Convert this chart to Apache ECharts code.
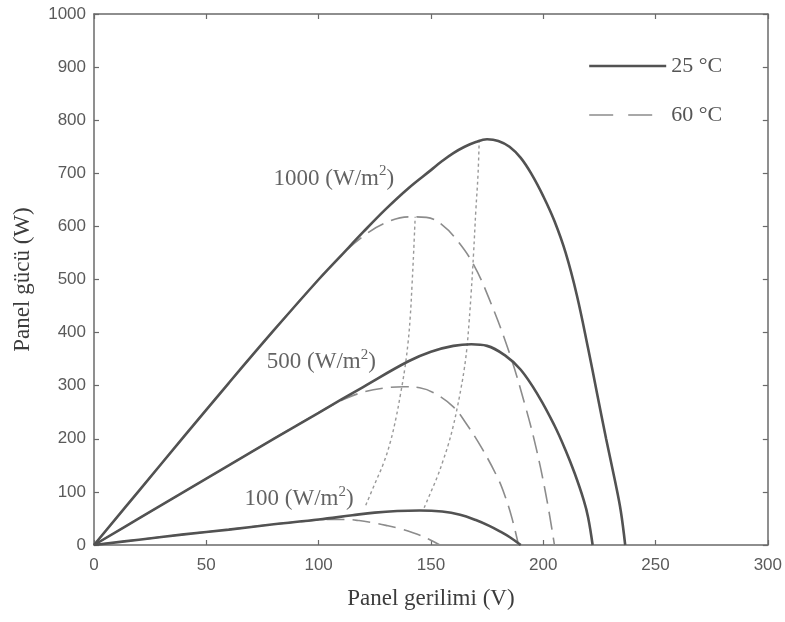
<!DOCTYPE html>
<html>
<head>
<meta charset="utf-8">
<script src="https://cdn.jsdelivr.net/npm/echarts@6/dist/echarts.min.js"></script>
<style>
  html, body { margin: 0; padding: 0; background: #fff; }
  #chart { width: 785px; height: 622px; }
</style>
</head>
<body>
<div id="chart"></div>
<script>
const elChart = document.getElementById('chart');

// Data: [voltage (V), power (W)]
const xTicks = [0, 50, 100, 150, 200, 250, 300];
const yTicks = [0, 100, 200, 300, 400, 500, 600, 700, 800, 900, 1000];

const p1000at25 = [[0, 0], [20, 102], [40, 204], [60, 305], [80, 404], [100, 500], [110, 545], [120, 590],
    [130, 633], [140, 672], [150, 706], [155, 723], [160, 738], [165, 750], [170, 759], [175, 764],
    [180, 761], [185, 750], [190, 729], [195, 697], [200, 657], [205, 610], [210, 550], [215, 470],
    [220, 370], [224, 285], [228, 200], [232, 120], [234.5, 65], [236.5, 0]];
const p1000at60 = [[0, 0], [20, 102], [40, 204], [60, 305], [80, 404], [100, 500], [110, 545], [120, 582],
    [130, 607], [140, 618], [148, 617], [155, 603], [162, 572], [169, 528], [176, 463], [185, 361],
    [192, 262], [197, 180], [201.5, 88], [205, 0]];

const p500at25 = [[0, 0], [20, 50], [40, 100], [60, 150], [80, 200], [100, 249], [120, 298], [140, 346],
    [150, 364], [160, 375], [168, 378], [175, 375], [183, 357], [190, 330], [198, 280], [205, 225],
    [210, 178], [214, 135], [218, 85], [220, 52], [222, 0]];
const p500at60 = [[0, 0], [20, 50], [40, 100], [60, 150], [80, 200], [100, 249], [110, 272], [120, 288],
    [130, 296], [138, 298], [145, 296], [152, 285], [160, 260], [166, 227], [173, 180], [180, 124],
    [183, 92], [186, 52], [189, 0]];

const p100at25 = [[0, 0], [20, 10], [40, 20], [60, 29], [80, 39], [100, 48], [115, 56], [125, 61],
    [135, 64], [145, 65], [155, 63], [163, 57], [170, 47], [176, 36], [181, 25], [185, 15], [190, 0]];
const p100at60 = [[0, 0], [20, 10], [40, 20], [60, 29], [80, 39], [100, 47], [106, 48], [112, 48],
    [118, 46], [124, 42], [130, 37], [136, 31], [142, 23], [148, 13], [154, 0]];

// maximum power point loci
const mppAt25 = [[147, 70], [150, 100], [153, 130], [155.5, 160], [157.8, 190], [160, 225], [161.8, 260],
    [163.4, 295], [164.8, 330], [166, 370], [167, 420], [168, 480], [169, 550], [170, 630],
    [171, 700], [171.5, 763]];
const mppAt60 = [[121, 75], [125, 115], [129, 155], [132, 195], [134.5, 240], [136.5, 285], [138.3, 330],
    [139.8, 380], [140.8, 430], [141.6, 490], [142.3, 550], [143, 618]];

const curveLabels = [
    { value: [106.8, 693], level: '1000' },
    { value: [101.2, 348], level: '500' },
    { value: [91.3, 90], level: '100' }
];

const name25 = '25 °C';
const name60 = '60 °C';

const chart = echarts.init(elChart);

function solid(data) {
    return {
        name: name25,
        type: 'line',
        data: data,
        symbol: 'none',
        smooth: 0.4,
        z: 5,
        itemStyle: { color: '#525252' },
        lineStyle: { color: '#525252', width: 2.6 }
    };
}

function dashed(data) {
    return {
        name: name60,
        type: 'line',
        data: data,
        symbol: 'none',
        smooth: 0.4,
        z: 4,
        itemStyle: { color: '#8c8c8c' },
        lineStyle: { color: '#8c8c8c', width: 1.6, type: [18, 8] }
    };
}

function dotted(name, data) {
    return {
        name: name,
        type: 'line',
        data: data,
        symbol: 'none',
        smooth: 0.4,
        z: 3,
        lineStyle: { color: '#999999', width: 1.4, type: [3, 3] }
    };
}

const serif = '"Liberation Serif", "DejaVu Serif", serif';
const sans = '"Liberation Sans", Arial, sans-serif';

const axisLine = { show: true, onZero: false, lineStyle: { color: '#6a6a6a', width: 1.5 } };
const axisTick = { show: true, inside: true, length: 5, lineStyle: { color: '#6a6a6a', width: 1.2 } };

const option = {
    animation: false,
    backgroundColor: '#ffffff',
    grid: { left: 94, right: 17, top: 14, bottom: 77 },

    legend: {
        orient: 'vertical',
        left: 583,
        top: 50,
        itemWidth: 77,
        itemHeight: 14,
        itemGap: 27,
        itemStyle: { opacity: 0 },
        data: [
            { name: name25, lineStyle: { width: 2.4 } },
            { name: name60, lineStyle: { type: [24, 15], width: 1.6 } }
        ],
        textStyle: { fontFamily: serif, fontSize: 22, color: '#555' },
        selectedMode: false
    },

    xAxis: [
        {
            type: 'value', min: 0, max: 300, interval: 50,
            name: 'Panel gerilimi (V)', nameLocation: 'middle', nameGap: 42,
            nameTextStyle: { fontFamily: serif, fontSize: 23, color: '#3c3c3c' },
            axisLine: axisLine, axisTick: axisTick, splitLine: { show: false },
            axisLabel: { margin: 12, fontFamily: sans, fontSize: 17, color: '#5a5a5a', formatter: v => String(v) }
        },
        {
            type: 'value', min: 0, max: 300, interval: 50, position: 'top',
            axisLine: axisLine, axisTick: axisTick, splitLine: { show: false },
            axisLabel: { show: false }
        }
    ],

    yAxis: [
        {
            type: 'value', min: 0, max: 1000, interval: 100,
            name: 'Panel gücü (W)', nameLocation: 'middle', nameGap: 60,
            nameTextStyle: { fontFamily: serif, fontSize: 23, color: '#3c3c3c' },
            axisLine: axisLine, axisTick: axisTick, splitLine: { show: false },
            axisLabel: { margin: 8, fontFamily: sans, fontSize: 17, color: '#5a5a5a', formatter: v => String(v) }
        },
        {
            type: 'value', min: 0, max: 1000, interval: 100, position: 'right',
            axisLine: axisLine, axisTick: axisTick, splitLine: { show: false },
            axisLabel: { show: false }
        }
    ],

    series: [
        dotted('MPP 25', mppAt25),
        dotted('MPP 60', mppAt60),
        dashed(p1000at60),
        dashed(p500at60),
        dashed(p100at60),
        solid(p1000at25),
        solid(p500at25),
        solid(p100at25),
        {
            name: 'labels',
            type: 'scatter',
            symbolSize: 0,
            silent: true,
            z: 6,
            data: curveLabels,
            label: {
                show: true,
                position: 'inside',
                formatter: function (p) {
                    return '{t|' + p.data.level + ' (W/m}{s|2}{t|)}';
                },
                rich: {
                    t: { fontFamily: serif, fontSize: 23, color: '#3c3c3c', lineHeight: 26, verticalAlign: 'bottom' },
                    s: { fontFamily: serif, fontSize: 15, color: '#3c3c3c', lineHeight: 26, verticalAlign: 'top' }
                }
            }
        }
    ]
};

chart.setOption(option);
</script>
</body>
</html>
